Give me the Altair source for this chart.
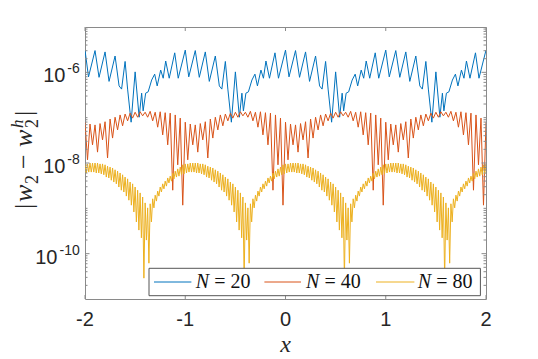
import altair as alt
import pandas as pd

# ---------------- data ----------------
# values are log10(|w2 - w2^h|); the pattern repeats over each unit of x
unit_starts = [-2, -1, 0, 1]

# N = 20 : x-offset inside one unit and log10 value
blue_dx = [0.0, 0.035, 0.10, 0.14, 0.20, 0.24, 0.30, 0.34, 0.365, 0.40, 0.425, 0.46,
           0.50, 0.54, 0.565, 0.58, 0.605, 0.63, 0.665, 0.695, 0.72, 0.755, 0.78,
           0.805, 0.84, 0.895, 0.93]
blue_log = [-5.51, -6.10, -5.52, -6.11, -5.55, -6.20, -5.64, -6.30, -6.37, -5.76, -6.37, -7.10,
            -5.99, -6.99, -6.46, -6.85, -6.46, -6.43, -6.17, -6.04, -6.30, -5.95, -6.13,
            -5.75, -6.13, -5.57, -6.13]

# N = 40 : peaks every 0.05, troughs half-way between
red_step = 0.05
red_peak_log = [-7.10, -7.14, -7.16, -7.13, -7.09, -7.03, -6.99, -6.94, -6.92, -6.90,
                -6.88, -6.87, -6.88, -6.86, -6.88, -6.87, -6.89, -6.90, -6.94, -7.01]
red_trough_log = [-7.93, -7.60, -7.76, -7.49, -7.89, -7.45, -7.27, -7.18, -7.07, -7.01,
                  -6.99, -6.96, -6.99, -7.07, -7.21, -7.38, -7.60, -8.60, -8.04, -8.93]

# N = 80 : peaks every 0.025, troughs half-way between
yellow_step = 0.025
yellow_peak_log = [-8.02, -8.02, -8.00, -8.00, -8.00, -8.00, -8.02, -8.02, -8.04, -8.07,
                   -8.09, -8.11, -8.15, -8.18, -8.22, -8.26, -8.31, -8.35, -8.42, -8.46,
                   -8.53, -8.60, -8.66, -8.75, -8.88, -8.99, -8.90, -8.79, -8.71, -8.62,
                   -8.53, -8.46, -8.40, -8.33, -8.29, -8.22, -8.18, -8.13, -8.09, -8.04]
yellow_trough_log = [-8.22, -8.20, -8.20, -8.20, -8.22, -8.22, -8.24, -8.26, -8.31, -8.33,
                     -8.38, -8.42, -8.46, -8.53, -8.60, -8.64, -8.73, -8.82, -8.93, -9.08,
                     -9.30, -9.48, -9.65, -10.54, -9.70, -10.21, -9.30, -8.99, -8.84, -8.73,
                     -8.64, -8.57, -8.51, -8.44, -8.40, -8.35, -8.31, -8.29, -8.26, -8.24]

series_names = ["N = 20", "N = 40", "N = 80"]
series_colors = ["#0072BD", "#D95319", "#EDB120"]

x_tick_values = [-2, -1, 0, 1, 2]
x_tick_labels = ["-2", "-1", "0", "1", "2"]
y_major_values = [1e-10, 1e-8, 1e-6]
y_major_exps = ["-10", "-8", "-6"]

# ---------------- build tables ----------------
def zigzag(step, peaks, troughs):
    offs, vals = [], []
    for i, (p, t) in enumerate(zip(peaks, troughs)):
        offs += [i * step, i * step + step / 2]
        vals += [p, t]
    return offs, vals

series_pts = {
    "N = 20": (blue_dx, blue_log),
    "N = 40": zigzag(red_step, red_peak_log, red_trough_log),
    "N = 80": zigzag(yellow_step, yellow_peak_log, yellow_trough_log),
}
rows = []
for name, (offs, vals) in series_pts.items():
    for s in unit_starts:
        for o, v in zip(offs, vals):
            rows.append({"series": name, "x": s + o, "y": 10 ** v})
    rows.append({"series": name, "x": 2.0, "y": 10 ** vals[0]})
df = pd.DataFrame(rows)

minor = []
for k in range(-11, -5):
    for m in range(1, 10):
        v = m * 10.0 ** k
        if (k == -11 and m == 1) or (m == 1 and k in (-10, -8, -6)):
            continue
        minor.append(v)
minor_df = pd.DataFrame({"v": minor})
major_df = pd.DataFrame({"v": y_major_values, "e": y_major_exps})
xt_df = pd.DataFrame({"v": x_tick_values, "t": x_tick_labels})

W, H = 401, 272
xs = alt.Scale(domain=[-2, 2], nice=False, zero=False)
ys = alt.Scale(type="log", domain=[1e-11, 1e-5], nice=False)
AX = "#8a8a8a"
TXT = "#262626"

layers = []
for name, col in zip(series_names, series_colors):
    layers.append(
        alt.Chart(df).transform_filter(alt.datum.series == name)
        .mark_line(color=col, strokeWidth=1, clip=True)
        .encode(x=alt.X("x:Q", scale=xs, axis=None), y=alt.Y("y:Q", scale=ys, axis=None))
    )

# inward ticks on all four sides
yq = alt.Y("v:Q", scale=ys, axis=None)
xq = alt.X("v:Q", scale=xs, axis=None)
layers += [
    alt.Chart(major_df).mark_rule(color=AX).encode(y=yq, x=alt.value(0), x2=alt.value(4.5)),
    alt.Chart(major_df).mark_rule(color=AX).encode(y=yq, x=alt.value(W), x2=alt.value(W - 4.5)),
    alt.Chart(minor_df).mark_rule(color=AX).encode(y=yq, x=alt.value(0), x2=alt.value(2.5)),
    alt.Chart(minor_df).mark_rule(color=AX).encode(y=yq, x=alt.value(W), x2=alt.value(W - 2.5)),
    alt.Chart(xt_df).mark_rule(color=AX).encode(x=xq, y=alt.value(H), y2=alt.value(H - 4)),
    alt.Chart(xt_df).mark_rule(color=AX).encode(x=xq, y=alt.value(0), y2=alt.value(4)),
]

# tick labels
layers += [
    alt.Chart(xt_df).mark_text(font="Liberation Sans", fontSize=20, color=TXT, baseline="top", align="center")
    .encode(x=xq, y=alt.value(H + 11), text="t:N"),
    alt.Chart(major_df).transform_filter(alt.datum.v > 1e-9)
    .mark_text(font="Liberation Sans", fontSize=20, color=TXT, baseline="alphabetic", align="right", dy=10)
    .encode(y=yq, x=alt.value(-19.5), text=alt.value("10")),
    alt.Chart(major_df).transform_filter(alt.datum.v < 1e-9)
    .mark_text(font="Liberation Sans", fontSize=20, color=TXT, baseline="alphabetic", align="right", dy=10)
    .encode(y=yq, x=alt.value(-27.5), text=alt.value("10")),
    alt.Chart(major_df)
    .mark_text(font="Liberation Sans", fontSize=14, color=TXT, baseline="alphabetic", align="right", dy=1)
    .encode(y=yq, x=alt.value(-5.3), text="e:N"),
]

# axis titles
one = pd.DataFrame({"k": [0]})
layers.append(
    alt.Chart(one).mark_text(font="Liberation Serif", fontStyle="italic", fontSize=24, color=TXT,
                             baseline="alphabetic", align="center")
    .encode(x=alt.value(W / 2), y=alt.value(H + 53), text=alt.value("x"))
)
# y title |w_2 - w_2^h| built from pieces (rotated, reading upwards)
base_x = -53.0          # baseline of the main characters, plot pixels
ytitle_parts = [
    # text, start (plot y), x shift, size, italic
    ("|", 182, 0, 26, False),
    ("w", 175, 0, 26, True),
    ("2", 157, 6, 18, False),
    ("\u2212", 142, 0, 26, False),
    ("w", 120, 0, 26, True),
    ("h", 101, -9, 17, True),
    ("2", 101, 6, 18, False),
    ("|", 89, 0, 26, False),
]
for t, ystart, dxs, size, ital in ytitle_parts:
    layers.append(
        alt.Chart(one).mark_text(font="Liberation Serif", fontStyle="italic" if ital else "normal",
                                 fontSize=size, color=TXT, baseline="alphabetic", align="left", angle=270)
        .encode(x=alt.value(base_x + dxs), y=alt.value(ystart), text=alt.value(t))
    )

# legend
lx = [(69, 106.4, 110.7), (179.4, 216, 221), (291, 329.4, 332.7)]
layers.append(
    alt.Chart(one).mark_rect(fill="white", stroke="#555555", strokeWidth=1)
    .encode(x=alt.value(64), x2=alt.value(395.4), y=alt.value(241.3), y2=alt.value(268.7))
)
for (a, b, t), name, col in zip(lx, series_names, series_colors):
    layers += [
        alt.Chart(one).mark_rule(color=col, strokeWidth=1)
        .encode(x=alt.value(a), x2=alt.value(b), y=alt.value(255)),
        alt.Chart(one).mark_text(font="Liberation Serif", fontStyle="italic", fontSize=20, color="#111111",
                                 baseline="middle", align="left")
        .encode(x=alt.value(t), y=alt.value(255), text=alt.value("N")),
        alt.Chart(one).mark_text(font="Liberation Serif", fontSize=20, color="#111111",
                                 baseline="middle", align="left")
        .encode(x=alt.value(t + 18.5), y=alt.value(255), text=alt.value(name[2:])),
    ]

chart = (
    alt.layer(*layers)
    .properties(width=W, height=H, background="white",
                autosize=alt.AutoSizeParams(type="none"),
                padding={"left": 77, "top": 19, "right": 44, "bottom": 60})
    .configure_view(stroke=AX, strokeWidth=1)
)

chart.save("out.html", embed_options={"renderer": "svg", "actions": False})
